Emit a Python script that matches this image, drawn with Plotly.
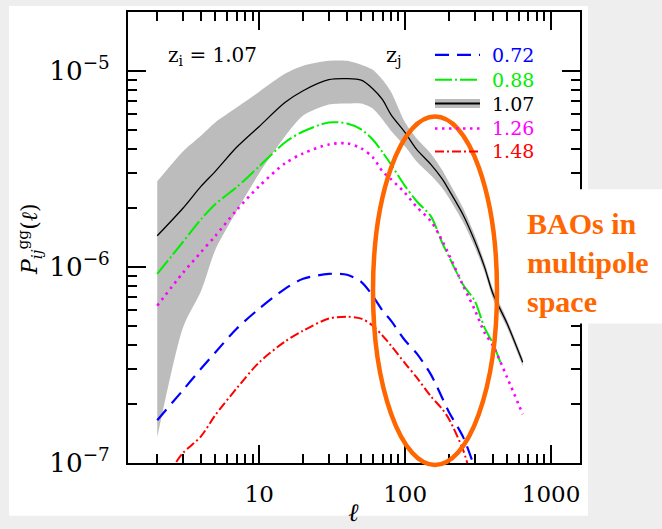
import plotly.graph_objects as go

# multipoles and angular galaxy power spectra P_ij^gg(l) for z_i = 1.07
ell = [2, 3, 4, 5, 7, 10, 15, 20, 30, 40, 50, 60, 70, 80, 100, 120, 150,
       180, 200, 250, 300, 350, 400, 500, 640]
ell_088 = [2, 3, 4, 5, 7, 10, 15, 20, 30, 40, 50, 60, 70, 80, 100, 120, 150,
           180, 200, 250, 300, 350, 400, 450]
ell_072 = [2, 3, 4, 5, 7, 10, 15, 20, 30, 40, 50, 60, 70, 80, 100, 120, 150,
           180, 200, 250, 300]
ell_148 = [2.7, 3, 4, 5, 7, 10, 15, 20, 30, 40, 50, 60, 70, 80, 100, 120, 150,
           180, 200, 250, 270]

p_107 = [1.44e-6, 1.99e-6, 2.58e-6, 3.07e-6, 4.07e-6, 5.20e-6, 6.88e-6, 7.91e-6,
         9.00e-6, 9.11e-6, 8.95e-6, 8.10e-6, 7.12e-6, 5.98e-6, 4.84e-6, 3.97e-6,
         3.33e-6, 2.80e-6, 2.46e-6, 1.84e-6, 1.355e-6, 1.00e-6, 7.29e-7, 5.14e-7,
         3.26e-7]
p_107_hi = [2.73e-6, 3.88e-6, 4.68e-6, 5.45e-6, 6.49e-6, 7.82e-6, 9.65e-6, 1.06e-5,
            1.124e-5, 1.124e-5, 1.073e-5, 1.012e-5, 9.00e-6, 7.82e-6, 5.45e-6,
            4.52e-6, 3.79e-6, 3.11e-6, 2.70e-6, 1.99e-6, 1.454e-6, 1.06e-6, 7.73e-7,
            5.38e-7, 3.41e-7]
p_107_lo = [1.355e-7, 4.90e-7, 7.55e-7, 1.22e-6, 1.92e-6, 3.00e-6, 4.62e-6, 5.91e-6,
            6.72e-6, 6.80e-6, 6.80e-6, 6.41e-6, 5.64e-6, 4.95e-6, 4.11e-6, 3.45e-6,
            2.93e-6, 2.52e-6, 2.24e-6, 1.69e-6, 1.263e-6, 9.43e-7, 6.88e-7, 4.90e-7,
            3.11e-7]
p_088 = [9.21e-7, 1.339e-6, 1.753e-6, 2.088e-6, 2.547e-6, 3.256e-6, 4.31e-6, 4.90e-6,
         5.45e-6, 5.38e-6, 5.02e-6, 4.46e-6, 3.84e-6, 3.33e-6, 2.58e-6, 2.16e-6,
         1.815e-6, 1.32e-6, 1.124e-6, 8.10e-7, 6.72e-7, 4.90e-7, 4.07e-7, 3.26e-7]
p_126 = [6.34e-7, 9.32e-7, 1.191e-6, 1.437e-6, 1.947e-6, 2.58e-6, 3.37e-6, 3.79e-6,
         4.21e-6, 4.26e-6, 4.02e-6, 3.62e-6, 3.07e-6, 2.80e-6, 2.38e-6, 2.02e-6,
         1.712e-6, 1.355e-6, 1.151e-6, 8.01e-7, 6.05e-7, 4.62e-7, 3.97e-7, 2.73e-7,
         1.773e-7]
p_072 = [1.653e-7, 2.35e-7, 3.03e-7, 3.66e-7, 4.84e-7, 6.12e-7, 7.73e-7, 8.69e-7,
         9.21e-7, 9.11e-7, 8.39e-7, 7.12e-7, 5.98e-7, 5.32e-7, 4.21e-7, 3.62e-7,
         2.83e-7, 2.14e-7, 1.815e-7, 1.355e-7, 9.43e-8]
p_148 = [1.012e-7, 1.124e-7, 1.371e-7, 1.753e-7, 2.40e-7, 3.26e-7, 4.16e-7, 4.73e-7,
         5.45e-7, 5.57e-7, 5.45e-7, 5.02e-7, 4.46e-7, 3.97e-7, 3.22e-7, 2.73e-7,
         2.19e-7, 1.88e-7, 1.673e-7, 1.164e-7, 9.66e-8]

z_j = ["0.72", "0.88", "1.07", "1.26", "1.48"]

BLUE, GREEN, BLACK, MAGENTA, RED = "#0000ff", "#00ee00", "#000000", "#ff00ff", "#ff0000"
BAND = "#bcbcbc"
ORANGE = "#ff6600"
SERIF = "DejaVu Serif"

styles = {
    "0.72": dict(color=BLUE, width=2.2, dash="14px,8px"),
    "0.88": dict(color=GREEN, width=2.0, dash="17px,3px,2px,3px"),
    "1.07": dict(color=BLACK, width=1.3, dash="solid"),
    "1.26": dict(color=MAGENTA, width=2.6, dash="2.5px,4.5px"),
    "1.48": dict(color=RED, width=2.0, dash="9px,3px,2px,3px"),
}

fig = go.Figure()

# shaded uncertainty band around the auto-spectrum
fig.add_trace(go.Scatter(x=ell, y=p_107_lo, mode="lines",
                         line=dict(width=0, shape="spline", smoothing=0.7),
                         hoverinfo="skip", showlegend=False))
fig.add_trace(go.Scatter(x=ell, y=p_107_hi, mode="lines", fill="tonexty", fillcolor=BAND,
                         line=dict(width=0, shape="spline", smoothing=0.7),
                         hoverinfo="skip", showlegend=False))

series = [("0.72", ell_072, p_072), ("0.88", ell_088, p_088), ("1.07", ell, p_107),
          ("1.26", ell, p_126), ("1.48", ell_148, p_148)]
for name, xs, ys in series:
    st = styles[name]
    fig.add_trace(go.Scatter(x=xs, y=ys, mode="lines", name=name, showlegend=False,
                             line=dict(color=st["color"], width=st["width"], dash=st["dash"],
                                       shape="spline", smoothing=0.8)))

axis_common = dict(showgrid=False, zeroline=False, showline=True, linecolor="black",
                   linewidth=2, mirror="ticks", ticks="inside", ticklen=18, tickwidth=1.5,
                   tickcolor="black", tickmode="linear", tick0=0, dtick=1,
                   minor=dict(ticks="inside", ticklen=9, tickwidth=1.5, tickcolor="black",
                              dtick="D1", showgrid=False))

fig.update_xaxes(type="log", range=[0.1007, 3.1986], exponentformat="none",
                 tickfont=dict(family=SERIF, size=23, color="black"), ticklabelstandoff=9,
                 **axis_common)
fig.update_yaxes(type="log", range=[-7, -4.7005], exponentformat="power", showexponent="all",
                 tickfont=dict(family=SERIF, size=21, color="black"), ticklabelstandoff=12,
                 **axis_common)

# plot area spans x 128..580 px, y 10..463 px of the 662x529 page
L, R, T, B = 128, 580, 10, 463


def px(x):
    return (x - L) / (R - L)


def py(y):
    return (B - y) / (B - T)


shapes = [
    # white panel behind the figure
    dict(type="rect", xref="paper", yref="paper", x0=px(9), x1=px(588), y0=py(516), y1=py(4),
         fillcolor="white", line=dict(width=0), layer="below"),
    # white box carrying the note on the right
    dict(type="rect", xref="paper", yref="paper", x0=px(515), x1=px(662), y0=py(323), y1=py(188),
         fillcolor="white", line=dict(width=0), layer="above"),
    # highlight around the BAO wiggles
    dict(type="circle", xref="paper", yref="paper", x0=px(373), x1=px(497), y0=py(465), y1=py(115),
         line=dict(color=ORANGE, width=4.5), layer="above"),
]

# key: line samples and coloured redshift labels
key_rows = [53, 78, 102, 127, 150]
annotations = []
for name, yrow in zip(z_j, key_rows):
    st = styles[name]
    if name == "1.07":
        shapes.append(dict(type="line", xref="paper", yref="paper", x0=px(435), x1=px(480),
                           y0=py(yrow), y1=py(yrow), line=dict(color=BAND, width=9)))
        shapes.append(dict(type="line", xref="paper", yref="paper", x0=px(435), x1=px(480),
                           y0=py(yrow), y1=py(yrow), line=dict(color=BLACK, width=2)))
    else:
        shapes.append(dict(type="line", xref="paper", yref="paper", x0=px(435), x1=px(480),
                           y0=py(yrow), y1=py(yrow),
                           line=dict(color=st["color"], width=st["width"], dash=st["dash"])))
    annotations.append(dict(xref="paper", yref="paper", x=px(490), y=py(yrow), xanchor="left",
                            yanchor="middle", text=name, showarrow=False,
                            font=dict(family=SERIF, size=19, color=st["color"])))

annotations += [
    dict(xref="paper", yref="paper", x=px(384), y=py(54), xanchor="left", yanchor="middle",
         text="z<sub>j</sub>", showarrow=False, font=dict(family=SERIF, size=21, color="black")),
    dict(xref="paper", yref="paper", x=px(166), y=py(54), xanchor="left", yanchor="middle",
         text="z<sub>i</sub> = 1.07", showarrow=False,
         font=dict(family=SERIF, size=20, color="black")),
    dict(xref="paper", yref="paper", x=px(353), y=py(513), xanchor="center", yanchor="middle",
         text="<i>\u2113</i>", showarrow=False, font=dict(family=SERIF, size=25, color="black")),
    dict(xref="paper", yref="paper", x=px(30), y=py(238), xanchor="center", yanchor="middle",
         textangle=-90, text="<i>P</i><sub><i>ij</i></sub><sup>gg</sup>(<i>\u2113</i>)",
         showarrow=False, font=dict(family=SERIF, size=22, color="black")),
    dict(xref="paper", yref="paper", x=px(525), y=py(262), xanchor="left", yanchor="middle",
         align="left", text="<b>BAOs in<br>multipole<br>space</b>", showarrow=False,
         font=dict(family="Liberation Serif", size=30, color=ORANGE)),
]

fig.update_layout(
    width=662, height=529,
    margin=dict(l=L, r=662 - R, t=T, b=529 - B),
    paper_bgcolor="#eeeeee", plot_bgcolor="white",
    showlegend=False,
    shapes=shapes, annotations=annotations,
)

fig.write_html("out.html")
